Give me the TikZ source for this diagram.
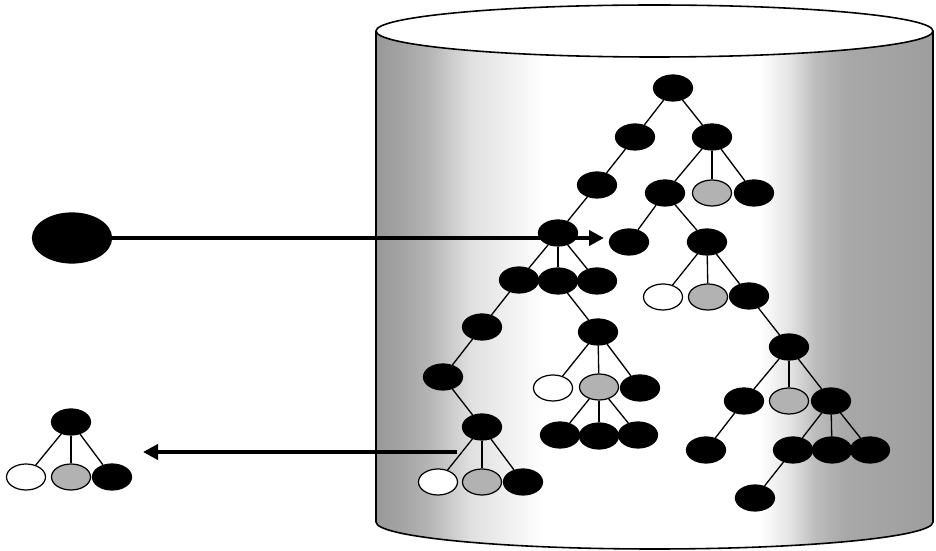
\documentclass[tikz,border=0pt]{standalone}
\usetikzlibrary{shapes.geometric,arrows.meta}
\pgfdeclarehorizontalshading{drum}{100bp}{color(0bp)=(gray!80); color(25bp)=(gray!80); color(27.2bp)=(gray!72); color(29.8bp)=(gray!58); color(33.4bp)=(gray!25); color(37.9bp)=(gray!8); color(40.2bp)=(white); color(59.5bp)=(white); color(62.2bp)=(gray!22); color(64.4bp)=(gray!52); color(67.1bp)=(gray!68); color(75bp)=(gray!76); color(100bp)=(gray!76)}
\begin{document}
\begin{tikzpicture}[
    leaf/.style={ellipse, draw, line width=0.7pt, inner sep=0pt, minimum width=0.78cm, minimum height=0.52cm},
    blk/.style={leaf, fill=black},
    wht/.style={leaf, fill=white},
    gry/.style={leaf, fill=gray!60},
    link/.style={line width=0.75pt},
    arr/.style={-{Triangle[length=0.3cm, width=0.3cm]}, line width=2.2pt}
]
\useasboundingbox (0,0) rectangle (18.72,11.02);

\fill[shading=drum] (7.52,10.40) -- (7.52,0.58) arc[start angle=180, end angle=360, x radius=5.57, y radius=0.54] -- (18.66,10.40) arc[start angle=360, end angle=180, x radius=5.57, y radius=0.52] -- cycle;
\draw[line width=0.9pt] (7.52,10.40) -- (7.52,0.58) arc[start angle=180, end angle=360, x radius=5.57, y radius=0.54] -- (18.66,10.40);
\draw[line width=0.9pt, fill=white] (13.09,10.40) ellipse[x radius=5.57, y radius=0.52];

\node[blk, minimum width=1.58cm, minimum height=1.0cm] (key) at (1.44,6.26) {};
\node[blk] (q0) at (1.42,2.58) {};
\node[wht] (qa) at (0.52,1.48) {};
\node[gry] (qb) at (1.42,1.48) {};
\node[blk] (qc) at (2.24,1.48) {};

\coordinate (hitend) at (12.08,6.26);
\coordinate (outstart) at (9.14,1.98);
\coordinate (outend) at (2.86,1.98);
\draw[arr] (key) -- (hitend);
\draw[arr] (outstart) -- (outend);

\node[blk] (top) at (13.46,9.26) {};
\node[blk] (l1) at (12.70,8.28) {};
\node[blk] (r1) at (14.24,8.28) {};
\node[blk] (l2) at (11.94,7.32) {};
\node[blk] (r2a) at (13.30,7.16) {};
\node[gry] (r2b) at (14.24,7.16) {};
\node[blk] (r2c) at (15.08,7.16) {};
\node[blk] (hit) at (11.16,6.36) {};
\node[blk] (r3a) at (12.58,6.18) {};
\node[blk] (r3b) at (14.14,6.18) {};
\node[blk] (h1) at (10.38,5.42) {};
\node[blk] (h2) at (11.16,5.40) {};
\node[blk] (h3) at (11.94,5.40) {};
\node[wht] (r4a) at (13.26,5.08) {};
\node[gry] (r4b) at (14.16,5.08) {};
\node[blk] (r4c) at (14.98,5.10) {};

\node[blk] (s0) at (15.78,4.08) {};
\node[blk] (s1) at (14.88,3.00) {};
\node[gry] (s2) at (15.78,3.00) {};
\node[blk] (s3) at (16.62,3.00) {};
\node[blk] (s11) at (14.12,2.02) {};
\node[blk] (s31) at (15.86,2.02) {};
\node[blk] (s32) at (16.64,2.02) {};
\node[blk] (s33) at (17.40,2.02) {};
\node[blk] (s311) at (15.10,1.06) {};

\node[blk] (p1) at (9.64,4.48) {};
\node[blk] (p2) at (8.86,3.48) {};
\node[blk] (p3) at (9.64,2.48) {};
\node[wht] (p3a) at (8.76,1.38) {};
\node[gry] (p3b) at (9.64,1.38) {};
\node[blk] (p3c) at (10.46,1.38) {};

\node[blk] (m0) at (11.96,4.38) {};
\node[wht] (ma) at (11.06,3.26) {};
\node[gry] (mb) at (11.98,3.28) {};
\node[blk] (mc) at (12.80,3.26) {};
\node[blk] (mb1) at (11.20,2.32) {};
\node[blk] (mb2) at (11.98,2.30) {};
\node[blk] (mb3) at (12.76,2.32) {};

\draw[link] (top) -- (l1);
\draw[link] (top) -- (r1);
\draw[link] (l1) -- (l2);
\draw[link] (l2) -- (hit);
\draw[link] (hit) -- (h1);
\draw[link] (hit) -- (h2);
\draw[link] (hit) -- (h3);
\draw[link] (r1) -- (r2a);
\draw[link] (r1) -- (r2b);
\draw[link] (r1) -- (r2c);
\draw[link] (r2a) -- (r3a);
\draw[link] (r2a) -- (r3b);
\draw[link] (r3b) -- (r4a);
\draw[link] (r3b) -- (r4b);
\draw[link] (r3b) -- (r4c);
\draw[link] (r4c) -- (s0);
\draw[link] (s0) -- (s1);
\draw[link] (s0) -- (s2);
\draw[link] (s0) -- (s3);
\draw[link] (s1) -- (s11);
\draw[link] (s3) -- (s31);
\draw[link] (s3) -- (s32);
\draw[link] (s3) -- (s33);
\draw[link] (s31) -- (s311);
\draw[link] (h1) -- (p1);
\draw[link] (p1) -- (p2);
\draw[link] (p2) -- (p3);
\draw[link] (p3) -- (p3a);
\draw[link] (p3) -- (p3b);
\draw[link] (p3) -- (p3c);
\draw[link] (h2) -- (m0);
\draw[link] (m0) -- (ma);
\draw[link] (m0) -- (mb);
\draw[link] (m0) -- (mc);
\draw[link] (mb) -- (mb1);
\draw[link] (mb) -- (mb2);
\draw[link] (mb) -- (mb3);
\draw[link] (q0) -- (qa);
\draw[link] (q0) -- (qb);
\draw[link] (q0) -- (qc);
\end{tikzpicture}
\end{document}
